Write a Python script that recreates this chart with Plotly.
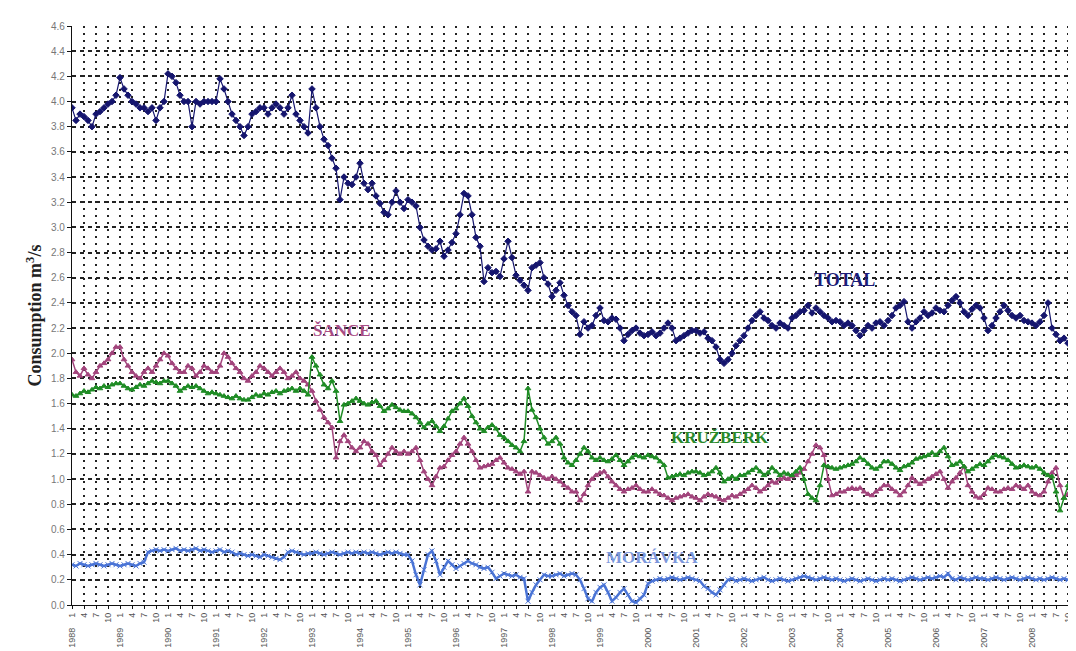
import plotly.graph_objects as go

years = list(range(1988, 2010))
month_labels = ["1", "4", "7", "10"]

total = [
    3.95, 3.85, 3.9, 3.88, 3.85, 3.8, 3.9, 3.92, 3.95, 3.98, 4.0, 4.05,   # 1988
    4.19, 4.1, 4.05, 4.0, 3.98, 3.95, 3.95, 3.92, 3.95, 3.85, 3.95, 4.0,  # 1989
    4.22, 4.2, 4.15, 4.05, 4.0, 4.0, 3.8, 4.0, 3.98, 4.0, 4.0, 4.0,       # 1990
    4.0, 4.18, 4.1, 4.0, 3.9, 3.85, 3.8, 3.73, 3.8, 3.9, 3.92, 3.95,      # 1991
    3.95, 3.9, 3.95, 3.98, 3.95, 3.9, 3.95, 4.05, 3.9, 3.85, 3.8, 3.75,   # 1992
    4.1, 3.95, 3.8, 3.7, 3.65, 3.55, 3.47, 3.22, 3.4, 3.35, 3.34, 3.4,    # 1993
    3.51, 3.35, 3.3, 3.35, 3.25, 3.19, 3.12, 3.1, 3.2, 3.29, 3.2, 3.15,   # 1994
    3.22, 3.2, 3.17, 3.0, 2.9, 2.85, 2.82, 2.83, 2.89, 2.77, 2.82, 2.88,  # 1995
    2.95, 3.1, 3.27, 3.25, 3.1, 2.92, 2.85, 2.57, 2.68, 2.64, 2.65, 2.61, # 1996
    2.75, 2.89, 2.76, 2.62, 2.58, 2.54, 2.5, 2.68, 2.7, 2.72, 2.6, 2.55,  # 1997
    2.45, 2.5, 2.56, 2.46, 2.38, 2.33, 2.3, 2.15, 2.25, 2.2, 2.22, 2.3,   # 1998
    2.36, 2.26, 2.25, 2.28, 2.27, 2.2, 2.1, 2.15, 2.18, 2.2, 2.16, 2.14,  # 1999
    2.15, 2.17, 2.14, 2.16, 2.2, 2.24, 2.2, 2.1, 2.12, 2.14, 2.16, 2.18,  # 2000
    2.18, 2.16, 2.17, 2.12, 2.1, 2.05, 1.95, 1.92, 1.95, 2.0, 2.06, 2.1,  # 2001
    2.14, 2.2, 2.26, 2.3, 2.33, 2.28, 2.26, 2.22, 2.2, 2.24, 2.22, 2.2,   # 2002
    2.28, 2.3, 2.33, 2.34, 2.38, 2.32, 2.36, 2.33, 2.3, 2.28, 2.25, 2.26, # 2003
    2.25, 2.22, 2.24, 2.22, 2.18, 2.14, 2.18, 2.22, 2.2, 2.24, 2.25, 2.22,# 2004
    2.26, 2.3, 2.36, 2.38, 2.41, 2.25, 2.2, 2.25, 2.28, 2.33, 2.3, 2.32,  # 2005
    2.36, 2.34, 2.33, 2.38, 2.42, 2.45, 2.4, 2.33, 2.3, 2.35, 2.38, 2.36, # 2006
    2.28, 2.18, 2.22, 2.28, 2.33, 2.38, 2.34, 2.3, 2.28, 2.3, 2.26, 2.25, # 2007
    2.24, 2.22, 2.25, 2.3, 2.4, 2.2, 2.15, 2.1, 2.12, 2.08, 2.1, 2.06,    # 2008
    2.05,                                                                 # 2009
]

sance = [
    1.95, 1.85, 1.82, 1.88, 1.83, 1.8, 1.85, 1.9, 1.92, 1.95, 2.0, 2.05,
    2.05, 1.95, 1.9, 1.85, 1.82, 1.8, 1.85, 1.88, 1.85, 1.9, 1.95, 2.0,
    1.98, 1.92, 1.88, 1.85, 1.85, 1.9, 1.88, 1.82, 1.85, 1.9, 1.88, 1.85,
    1.85, 1.9, 2.0, 1.97, 1.92, 1.88, 1.85, 1.8, 1.78, 1.82, 1.85, 1.9,
    1.88, 1.85, 1.82, 1.85, 1.88, 1.85, 1.8, 1.82, 1.85, 1.8, 1.78, 1.75,
    1.7, 1.62, 1.55, 1.49, 1.45, 1.41, 1.17, 1.3, 1.35, 1.3, 1.25, 1.22,
    1.25, 1.3, 1.28, 1.22, 1.19, 1.11, 1.15, 1.2, 1.25, 1.22, 1.2, 1.22,
    1.2, 1.22, 1.25, 1.15, 1.06, 1.0, 0.95, 1.02, 1.09, 1.1, 1.15, 1.19,
    1.22, 1.28, 1.33, 1.28, 1.22, 1.15, 1.09, 1.1, 1.11, 1.12, 1.15, 1.17,
    1.13, 1.09, 1.08, 1.06, 1.04, 1.06, 0.9, 1.06, 1.05, 1.03, 1.01, 1.0,
    1.02, 1.0, 0.98, 0.95, 0.93, 0.9, 0.9, 0.83, 0.88, 0.95, 1.0, 1.03,
    1.05, 1.06, 1.02, 0.98, 0.95, 0.92, 0.9, 0.92, 0.93, 0.95, 0.92, 0.9,
    0.9, 0.92, 0.9, 0.88, 0.87, 0.85, 0.83, 0.85, 0.86, 0.87, 0.88, 0.86,
    0.85, 0.83, 0.86, 0.88, 0.87, 0.86, 0.84, 0.83, 0.85, 0.87, 0.86, 0.88,
    0.9, 0.92, 0.95, 0.93, 0.9, 0.92, 0.95, 0.98, 0.97, 1.0, 1.01, 1.0,
    1.02, 1.03, 1.05, 1.08, 1.14, 1.2, 1.27, 1.25, 1.19, 1.0, 0.87, 0.88,
    0.9, 0.9, 0.92, 0.93, 0.92, 0.93, 0.9, 0.88, 0.87, 0.9, 0.92, 0.95,
    0.95, 0.92, 0.9, 0.87, 0.9, 0.95, 1.01, 0.98, 0.96, 0.98, 1.0, 1.02,
    1.04, 1.06, 1.0, 0.93, 0.98, 1.01, 1.05, 1.1, 0.95, 0.9, 0.86, 0.85,
    0.88, 0.93, 0.92, 0.9, 0.9, 0.92, 0.93, 0.92, 0.95, 0.94, 0.92, 0.95,
    0.9, 0.88, 0.87, 0.9, 0.98, 1.05, 1.09, 0.95, 0.85, 0.88, 0.87, 0.85,
    0.82,
]

kruzberk = [
    1.67, 1.66, 1.68, 1.7, 1.69, 1.71, 1.73, 1.72, 1.74, 1.73, 1.75, 1.76,
    1.76, 1.74, 1.72, 1.71, 1.73, 1.75, 1.74, 1.76, 1.78, 1.77, 1.76, 1.78,
    1.78, 1.76, 1.74, 1.7, 1.72, 1.74, 1.73, 1.74, 1.72, 1.7, 1.68, 1.69,
    1.68, 1.67, 1.66, 1.65, 1.64, 1.66, 1.64, 1.63, 1.63, 1.65, 1.67, 1.66,
    1.68, 1.67, 1.69, 1.7, 1.68, 1.7, 1.71, 1.72, 1.7, 1.72, 1.7, 1.67,
    1.97, 1.9, 1.83, 1.75, 1.72, 1.78, 1.7, 1.46, 1.59, 1.6, 1.62, 1.64,
    1.62, 1.6, 1.59, 1.61, 1.62, 1.58, 1.54, 1.56, 1.59, 1.57, 1.55, 1.54,
    1.54, 1.52, 1.49, 1.45, 1.41, 1.44, 1.46, 1.42, 1.38, 1.42, 1.48, 1.54,
    1.56, 1.6, 1.64, 1.58, 1.5, 1.45, 1.4, 1.38, 1.41, 1.43, 1.4, 1.35,
    1.33, 1.3, 1.27, 1.25, 1.22, 1.3, 1.72, 1.55, 1.49, 1.4, 1.33, 1.28,
    1.3, 1.33, 1.28, 1.17, 1.13, 1.11, 1.15, 1.2, 1.25, 1.22, 1.17, 1.15,
    1.17, 1.15, 1.14, 1.16, 1.19, 1.15, 1.11, 1.14, 1.17, 1.19, 1.18, 1.17,
    1.19, 1.18, 1.17, 1.14, 1.11, 1.01, 1.02, 1.03, 1.04, 1.03, 1.05, 1.06,
    1.06, 1.05, 1.03, 1.04, 1.06, 1.09, 1.05, 0.98, 1.0, 1.02, 1.0, 1.03,
    1.03, 1.05, 1.07, 1.09, 1.06, 1.03, 1.05, 1.09, 1.06, 1.03, 1.05, 1.04,
    1.03, 1.06, 1.09, 1.0, 0.88, 0.85, 0.83, 0.95, 1.11, 1.1, 1.09, 1.08,
    1.09, 1.1, 1.11, 1.12, 1.14, 1.17, 1.15, 1.12, 1.09, 1.08, 1.1, 1.14,
    1.14, 1.12, 1.09, 1.07, 1.1, 1.11, 1.13, 1.16, 1.17, 1.18, 1.19, 1.21,
    1.19, 1.22, 1.25, 1.18, 1.11, 1.12, 1.14, 1.1, 1.06, 1.08, 1.1, 1.12,
    1.11, 1.14, 1.17, 1.19, 1.18, 1.17, 1.15, 1.12, 1.09, 1.1, 1.11, 1.1,
    1.09, 1.1, 1.08, 1.05, 1.03, 1.02, 0.9, 0.75, 0.85, 0.95, 1.01, 0.98,
    1.0,
]

moravka = [
    0.32, 0.31, 0.33, 0.32, 0.31, 0.32, 0.33, 0.32, 0.31, 0.32, 0.33, 0.32,
    0.31, 0.32, 0.33, 0.32, 0.31, 0.33, 0.34, 0.42, 0.43, 0.44, 0.43, 0.44,
    0.43, 0.44, 0.45, 0.43, 0.44, 0.43, 0.44, 0.45, 0.43, 0.44, 0.43, 0.42,
    0.43, 0.44, 0.42, 0.43, 0.42, 0.4, 0.41, 0.4, 0.39, 0.4, 0.39, 0.38,
    0.4, 0.39, 0.38, 0.37, 0.36, 0.38, 0.42, 0.43, 0.42, 0.41, 0.4, 0.41,
    0.41, 0.42, 0.41, 0.4, 0.41, 0.42, 0.41, 0.4, 0.41, 0.42, 0.41, 0.42,
    0.41, 0.42, 0.41, 0.42, 0.41, 0.4, 0.41, 0.42, 0.41, 0.42, 0.41, 0.4,
    0.4, 0.35, 0.24, 0.16, 0.28, 0.4, 0.43, 0.35, 0.24, 0.3, 0.35, 0.32,
    0.29, 0.31, 0.33, 0.35, 0.33, 0.32, 0.3, 0.29, 0.3, 0.26, 0.21, 0.23,
    0.25, 0.24, 0.23, 0.24, 0.22, 0.21, 0.03, 0.1, 0.16, 0.2, 0.24, 0.23,
    0.23, 0.24, 0.25, 0.23, 0.24, 0.25, 0.24, 0.2, 0.13, 0.05, 0.03, 0.1,
    0.14, 0.16, 0.1, 0.03, 0.06, 0.1, 0.13, 0.08, 0.03, 0.02, 0.05, 0.08,
    0.17, 0.19, 0.2, 0.21, 0.2, 0.21, 0.22, 0.21, 0.2, 0.21, 0.22, 0.21,
    0.2, 0.19, 0.15, 0.13, 0.1, 0.08, 0.12, 0.16, 0.2, 0.21, 0.19, 0.2,
    0.21, 0.2, 0.19, 0.2, 0.21, 0.22, 0.2, 0.19, 0.2, 0.21, 0.2, 0.19,
    0.2, 0.21, 0.22, 0.23, 0.22, 0.21, 0.2, 0.21, 0.22, 0.21, 0.2, 0.21,
    0.2, 0.19, 0.2, 0.21, 0.2, 0.19, 0.2, 0.21, 0.2, 0.19, 0.2, 0.21,
    0.2, 0.21, 0.2, 0.19, 0.2, 0.21, 0.22, 0.21, 0.2, 0.21, 0.22, 0.21,
    0.22, 0.23, 0.22, 0.25, 0.21, 0.2, 0.22, 0.21, 0.2, 0.21, 0.22, 0.21,
    0.21, 0.2, 0.21, 0.22, 0.21, 0.2, 0.21, 0.22, 0.21, 0.2, 0.21, 0.22,
    0.21, 0.2, 0.21, 0.2, 0.21, 0.22, 0.21, 0.2, 0.21, 0.2, 0.21, 0.2,
    0.2,
]

months = list(range(len(total)))  # month index from Jan 1988

series = [
    ("MORÁVKA", moravka, "#4a74d6", "x-thin", 2.5),
    ("ŠANCE", sance, "#a2447c", "triangle-up", 1.5),
    ("KRUŽBERK", kruzberk, "#1f8c25", "triangle-up", 1.5),
    ("TOTAL", total, "#15156e", "diamond", 1.2),
]

fig = go.Figure()
for name, vals, col, sym, lw in series:
    fig.add_trace(go.Scatter(
        x=months, y=vals, mode="lines+markers", name=name,
        line=dict(color=col, width=lw),
        marker=dict(symbol=sym, size=5, color=col, line=dict(color=col, width=1)),
        showlegend=False,
    ))

# series labels: (text, month position, value, colour, size)
labels = [
    ("TOTAL", 193, 2.58, "#1c1c78", 18),
    ("ŠANCE", 67.5, 2.18, "#a84c84", 17),
    ("KRUŽBERK", 162, 1.33, "#2a8a2a", 17),
    ("MORÁVKA", 145, 0.38, "#7d98dc", 17),
]
for txt, xm, yv, col, fs in labels:
    fig.add_annotation(x=xm, y=yv, xref="x", yref="y", text="<b>" + txt + "</b>",
                       showarrow=False,
                       font=dict(family="Liberation Serif", size=fs, color=col))

# month ticks (quarterly)
tickvals = list(range(0, len(total), 3))
ticktext = [month_labels[(m % 12) // 3] for m in tickvals]

# year labels under month ticks
for i, yr in enumerate(years):
    fig.add_annotation(x=12 * i, y=-0.036, xref="x", yref="paper", text=str(yr),
                       showarrow=False, textangle=-90, yanchor="top",
                       font=dict(family="Liberation Sans", size=9, color="#555"))

fig.update_xaxes(
    range=[0, 252], tickvals=tickvals, ticktext=ticktext, tickangle=-90,
    tickfont=dict(family="Liberation Sans", size=9, color="#555"),
    showgrid=True, gridcolor="#222", gridwidth=1.6, griddash="2px,5px",
    showline=True, linecolor="#111", linewidth=1.2,
    ticks="outside", ticklen=3, tickcolor="#111", zeroline=False,
)
fig.update_yaxes(
    range=[0, 4.6], dtick=0.2, tick0=0, tickformat=".1f",
    tickfont=dict(family="Liberation Sans", size=10, color="#777"),
    showgrid=True, gridcolor="#222", gridwidth=1.6, griddash="4px,4px",
    showline=True, linecolor="#111", linewidth=1.2,
    ticks="outside", ticklen=4, tickcolor="#111", zeroline=False,
    title=dict(text="<b>Consumption m<sup>3</sup>/s</b>",
               font=dict(family="Liberation Serif", size=18, color="#222"), standoff=4),
)

fig.update_layout(
    width=1076, height=651,
    margin=dict(l=64, r=4, t=18, b=54),
    paper_bgcolor="white", plot_bgcolor="white",
)

fig.write_html("out.html")
